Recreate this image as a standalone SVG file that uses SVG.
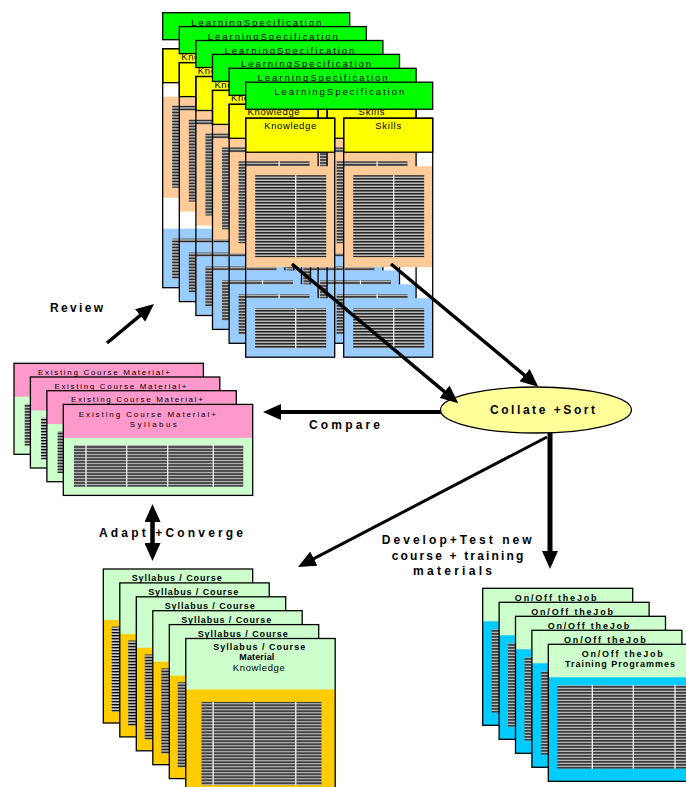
<svg xmlns="http://www.w3.org/2000/svg" width="686" height="787" viewBox="0 0 686 787">
<style>
.t{font-family:"Liberation Sans",Arial,sans-serif;fill:#000;text-anchor:middle}
.s{font-size:9.5px}
.s8{font-size:8px}
.sb{font-size:9px;font-weight:bold}
.lb{font-size:12px;font-weight:bold}
.ol{stroke:#000;stroke-width:1.3}
.no{fill:none;stroke:#000;stroke-width:1.3}
.dv{stroke:#fff;stroke-width:1.2}
.h{fill:url(#hp)}
</style>
<defs>
<pattern id="hp" width="6" height="3" patternUnits="userSpaceOnUse">
<rect width="6" height="3" fill="#fff"/>
<rect width="6" height="1.4" fill="#000"/>
<rect y="1.4" width="6" height="1" fill="#777"/>
</pattern>
<marker id="ah" markerUnits="userSpaceOnUse" markerWidth="18" markerHeight="16" refX="6" refY="8" orient="auto-start-reverse" viewBox="0 0 18 16">
<path d="M0,0 L18,8 L0,16 Z" fill="#000"/>
</marker>
<g id="lsCol">
<rect width="89" height="34" fill="#ffff00" class="ol"/>
<rect y="48" width="89" height="101" fill="#ffcc99"/>
<rect x="9.5" y="57" width="71" height="82" class="h"/>
<line x1="50" y1="57" x2="50" y2="139" class="dv"/>
<rect y="180" width="89" height="59" fill="#99ccff"/>
<rect x="9.5" y="190" width="71" height="40" class="h"/>
<line x1="50" y1="190" x2="50" y2="230" class="dv"/>
<rect width="89" height="239" class="no"/>
</g>
<g id="lsLayer">
<rect width="187" height="27" fill="#00ff00" class="ol"/>
<use href="#lsCol" y="36"/>
<use href="#lsCol" x="98" y="36"/>
</g>
<g id="exCard">
<rect width="189.4" height="91" fill="#ccffcc"/>
<rect width="189.4" height="33.4" fill="#ff99cc"/>
<rect x="10.7" y="40.7" width="169.3" height="41.7" class="h"/>
<line x1="22.7" y1="40.7" x2="22.7" y2="82.4" class="dv"/>
<line x1="63.4" y1="40.7" x2="63.4" y2="82.4" class="dv"/>
<line x1="104.4" y1="40.7" x2="104.4" y2="82.4" class="dv"/>
<line x1="150" y1="40.7" x2="150" y2="82.4" class="dv"/>
<rect width="189.4" height="91" class="no"/>
</g>
<g id="syB">
<rect width="149.4" height="154" fill="#ffcc00"/>
<rect width="149.4" height="51" fill="#ccffcc"/>
<rect x="8.4" y="57.7" width="122" height="85" class="h"/>
<line x1="20" y1="57.7" x2="20" y2="142.7" class="dv"/>
<rect width="149.4" height="154" class="no"/>
</g>
<g id="syF">
<rect width="149.4" height="154" fill="#ffcc00"/>
<rect width="149.4" height="51" fill="#ccffcc"/>
<rect x="15.7" y="63.4" width="120" height="83.3" class="h"/>
<line x1="27.3" y1="63.4" x2="27.3" y2="146.7" class="dv"/>
<line x1="68.3" y1="63.4" x2="68.3" y2="146.7" class="dv"/>
<line x1="110" y1="63.4" x2="110" y2="146.7" class="dv"/>
<rect width="149.4" height="154" class="no"/>
</g>
<g id="onCard">
<rect width="150" height="137" fill="#00ccff"/>
<rect width="150" height="33" fill="#ccffcc"/>
<rect x="9" y="41" width="132" height="83.4" class="h"/>
<line x1="44" y1="41" x2="44" y2="124.4" class="dv"/>
<line x1="85" y1="41" x2="85" y2="124.4" class="dv"/>
<line x1="126.7" y1="41" x2="126.7" y2="124.4" class="dv"/>
<rect width="150" height="137" class="no"/>
</g>
</defs>

<g id="learning-spec">
<g id="ls-1" transform="translate(162.7,12.7)"><use href="#lsLayer"/><text class="t s" x="93.5" y="13" textLength="130" lengthAdjust="spacing">LearningSpecification</text><text class="t s" x="44.5" y="47" textLength="52" lengthAdjust="spacing">Knowledge</text></g>
<g id="ls-2" transform="translate(179.3,26.6)"><use href="#lsLayer"/><text class="t s" x="93.5" y="13" textLength="130" lengthAdjust="spacing">LearningSpecification</text><text class="t s" x="44.5" y="47" textLength="52" lengthAdjust="spacing">Knowledge</text></g>
<g id="ls-3" transform="translate(195.9,40.5)"><use href="#lsLayer"/><text class="t s" x="93.5" y="13" textLength="130" lengthAdjust="spacing">LearningSpecification</text><text class="t s" x="44.5" y="47" textLength="52" lengthAdjust="spacing">Knowledge</text></g>
<g id="ls-4" transform="translate(212.5,54.4)"><use href="#lsLayer"/><text class="t s" x="93.5" y="13" textLength="130" lengthAdjust="spacing">LearningSpecification</text><text class="t s" x="44.5" y="47" textLength="52" lengthAdjust="spacing">Knowledge</text></g>
<g id="ls-5" transform="translate(229.1,68.3)"><use href="#lsLayer"/><text class="t s" x="93.5" y="13" textLength="130" lengthAdjust="spacing">LearningSpecification</text><text class="t s" x="44.5" y="47" textLength="52" lengthAdjust="spacing">Knowledge</text><text class="t s" x="142.5" y="47" textLength="26" lengthAdjust="spacing">Skills</text></g>
<g id="ls-6" transform="translate(245.7,82.2)"><use href="#lsLayer"/><text class="t s" x="93.5" y="13" textLength="130" lengthAdjust="spacing">LearningSpecification</text><text class="t s" x="44.5" y="47" textLength="52" lengthAdjust="spacing">Knowledge</text><text class="t s" x="142.5" y="47" textLength="26" lengthAdjust="spacing">Skills</text></g>
</g>

<g id="existing">
<g id="ex-1" transform="translate(14,363.3)"><use href="#exCard"/><text class="t s8" x="90" y="11.5" textLength="132" lengthAdjust="spacing">Existing Course Material+</text></g>
<g id="ex-2" transform="translate(30.4,377)"><use href="#exCard"/><text class="t s8" x="90" y="11.5" textLength="132" lengthAdjust="spacing">Existing Course Material+</text></g>
<g id="ex-3" transform="translate(46.9,390.7)"><use href="#exCard"/><text class="t s8" x="90" y="11.5" textLength="132" lengthAdjust="spacing">Existing Course Material+</text></g>
<g id="ex-4" transform="translate(63.3,404.4)"><use href="#exCard"/><text class="t s8" x="84" y="13" textLength="137" lengthAdjust="spacing">Existing Course Material+</text><text class="t s8" x="90" y="22.8" textLength="47" lengthAdjust="spacing">Syllabus</text></g>
</g>

<g id="syllabus">
<g id="sy-1" transform="translate(103.3,569)"><use href="#syB"/><text class="t sb" x="73.4" y="12" textLength="90" lengthAdjust="spacing">Syllabus / Course</text></g>
<g id="sy-2" transform="translate(119.8,582.9)"><use href="#syB"/><text class="t sb" x="73.4" y="12" textLength="90" lengthAdjust="spacing">Syllabus / Course</text></g>
<g id="sy-3" transform="translate(136.3,596.8)"><use href="#syB"/><text class="t sb" x="73.4" y="12" textLength="90" lengthAdjust="spacing">Syllabus / Course</text></g>
<g id="sy-4" transform="translate(152.8,610.7)"><use href="#syB"/><text class="t sb" x="73.4" y="12" textLength="90" lengthAdjust="spacing">Syllabus / Course</text></g>
<g id="sy-5" transform="translate(169.3,624.6)"><use href="#syB"/><text class="t sb" x="73.4" y="12" textLength="90" lengthAdjust="spacing">Syllabus / Course</text></g>
<g id="sy-6" transform="translate(185.8,638.5)"><use href="#syF"/><text class="t sb" x="73.4" y="11.5" textLength="92" lengthAdjust="spacing">Syllabus / Course</text><text class="t sb" x="71" y="21" textLength="35" lengthAdjust="spacing">Material</text><text class="t s" x="73" y="32.5" textLength="52" lengthAdjust="spacing">Knowledge</text></g>
</g>

<g id="onoff">
<g id="oj-1" transform="translate(482.7,588.3)"><use href="#onCard"/><text class="t sb" x="73" y="12.7" textLength="81.7" lengthAdjust="spacing">On/Off theJob</text></g>
<g id="oj-2" transform="translate(499.1,602.3)"><use href="#onCard"/><text class="t sb" x="73" y="12.7" textLength="81.7" lengthAdjust="spacing">On/Off theJob</text></g>
<g id="oj-3" transform="translate(515.5,616.3)"><use href="#onCard"/><text class="t sb" x="73" y="12.7" textLength="81.7" lengthAdjust="spacing">On/Off theJob</text></g>
<g id="oj-4" transform="translate(531.9,630.3)"><use href="#onCard"/><text class="t sb" x="73" y="12.7" textLength="81.7" lengthAdjust="spacing">On/Off theJob</text></g>
<g id="oj-5" transform="translate(548.3,644.3)"><use href="#onCard"/><text class="t sb" x="73.9" y="12.4" textLength="81" lengthAdjust="spacing">On/Off theJob</text><text class="t sb" x="71.7" y="22.4" textLength="110" lengthAdjust="spacing">Training Programmes</text></g>
</g>

<g id="collate">
<ellipse cx="536" cy="410" rx="95.5" ry="23" fill="#ffff99" class="ol"/>
<text class="t lb" x="542.5" y="414" textLength="105" lengthAdjust="spacing">Collate +Sort</text>
</g>

<g id="labels">
<text class="t lb" x="76.5" y="312" textLength="53" lengthAdjust="spacing">Review</text>
<text class="t lb" x="344.5" y="429" textLength="71" lengthAdjust="spacing">Compare</text>
<text class="t lb" x="171" y="537" textLength="144" lengthAdjust="spacing">Adapt +Converge</text>
<text class="t lb" x="456.7" y="544" textLength="150" lengthAdjust="spacing">Develop+Test new</text>
<text class="t lb" x="457.5" y="560" textLength="131.6" lengthAdjust="spacing">course + training</text>
<text class="t lb" x="452.5" y="575" textLength="79" lengthAdjust="spacing">materials</text>
</g>

<g id="connectors" fill="none" stroke="#000">
<line x1="292" y1="264" x2="449.1" y2="395.6" stroke-width="3.5" marker-end="url(#ah)"/>
<line x1="391" y1="264" x2="529.1" y2="379" stroke-width="3.5" marker-end="url(#ah)"/>
<line x1="441" y1="412" x2="275" y2="412" stroke-width="4" marker-end="url(#ah)"/>
<line x1="547" y1="437" x2="308.6" y2="561.4" stroke-width="3" marker-end="url(#ah)"/>
<line x1="550" y1="433" x2="550" y2="557" stroke-width="5" marker-end="url(#ah)"/>
<line x1="107" y1="343" x2="144.8" y2="311.7" stroke-width="3.5" marker-end="url(#ah)"/>
<line x1="152.5" y1="516" x2="152.5" y2="549" stroke-width="4.5" marker-start="url(#ah)" marker-end="url(#ah)"/>
</g>
</svg>
